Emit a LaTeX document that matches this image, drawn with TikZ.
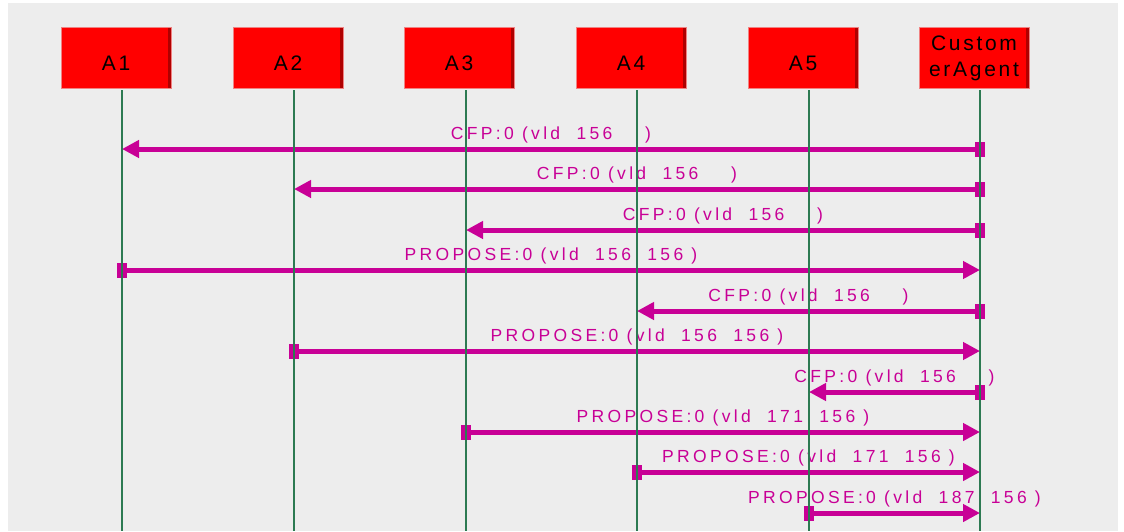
\documentclass[tikz,border=0pt]{standalone}
\usepackage{fontspec}
\usetikzlibrary{arrows.meta,calc}
\newfontfamily\lblfont[LetterSpace=19]{Liberation Sans}
\newfontfamily\boxfont[LetterSpace=13]{Liberation Sans}
\definecolor{bggray}{RGB}{237,237,237}
\definecolor{msgcol}{RGB}{200,0,150}
\definecolor{lifecol}{RGB}{45,122,82}
\definecolor{boxred}{RGB}{255,0,0}
\definecolor{boxshade}{RGB}{175,0,0}
\definecolor{boxedge}{RGB}{240,130,130}
\tikzset{
  agent/.style={draw=boxedge, line width=0.8pt, fill=boxred, minimum width=110pt,
    minimum height=61pt, inner sep=0pt, font=\boxfont\fontsize{21}{26}\selectfont,
    text height=25pt, text depth=0pt,
    path picture={\fill[boxshade] ([xshift=-3pt]path picture bounding box.north east)
      rectangle (path picture bounding box.south east);}},
  lifeline/.style={draw=lifecol, line width=2pt},
  msg/.style={draw=msgcol, line width=5pt, -{Triangle[length=17pt,width=17pt]}},
  srcmark/.style={fill=msgcol, minimum width=10pt, minimum height=15pt, inner sep=0pt},
  msglabel/.style={text=msgcol, font=\lblfont\fontsize{17.5}{20}\selectfont, anchor=base, inner sep=0pt}
}
\begin{document}
\begin{tikzpicture}[x=1pt,y=-1pt]
\useasboundingbox (0,0) rectangle (1124,531);
\fill[white] (0,0) rectangle (1124,531);
\fill[bggray] (8,3) rectangle (1118,531);
% agents
\node[agent] (A1) at (116,57.5) {A1};
\node[agent] (A2) at (288,57.5) {A2};
\node[agent] (A3) at (459,57.5) {A3};
\node[agent] (A4) at (631,57.5) {A4};
\node[agent] (A5) at (803,57.5) {A5};
\node[agent, align=center, text height=38pt, text depth=0pt] (CA) at (974,57.5) {Custom\\erAgent};
% lifeline end points
\foreach \n/\x in {1/122,2/294,3/466,4/637,5/809,6/980}{
  \coordinate (top\n) at (\x,90);
  \coordinate (bot\n) at (\x,531);
}
% messages: index / from / to / y / text
\foreach \i/\f/\t/\y/\txt in {
  1/6/1/149/{CFP:0 (vld\ \ 156\ \ \ \ )},
  2/6/2/189/{CFP:0 (vld\ \ 156\ \ \ \ )},
  3/6/3/230/{CFP:0 (vld\ \ 156\ \ \ \ )},
  4/1/6/270/{PROPOSE:0 (vld\ \ 156\ \ 156 )},
  5/6/4/311/{CFP:0 (vld\ \ 156\ \ \ \ )},
  6/2/6/351/{PROPOSE:0 (vld\ \ 156\ \ 156 )},
  7/6/5/392/{CFP:0 (vld\ \ 156\ \ \ \ )},
  8/3/6/432/{PROPOSE:0 (vld\ \ 171\ \ 156 )},
  9/4/6/472/{PROPOSE:0 (vld\ \ 171\ \ 156 )},
  10/5/6/513/{PROPOSE:0 (vld\ \ 187\ \ 156 )}}{
  \node[srcmark] (src\i) at (top\f |- 0,\y) {};
  \coordinate (dst\i) at (top\t |- 0,\y);
  \draw[msg] (src\i.center) -- (dst\i);
  \node[msglabel] (lab\i) at ($(src\i.center)!0.5!(dst\i)+(0,-10)$) {\txt};
}
% lifelines on top
\foreach \n in {1,...,6}{
  \draw[lifeline] (top\n) -- (bot\n);
}
\end{tikzpicture}
\end{document}
